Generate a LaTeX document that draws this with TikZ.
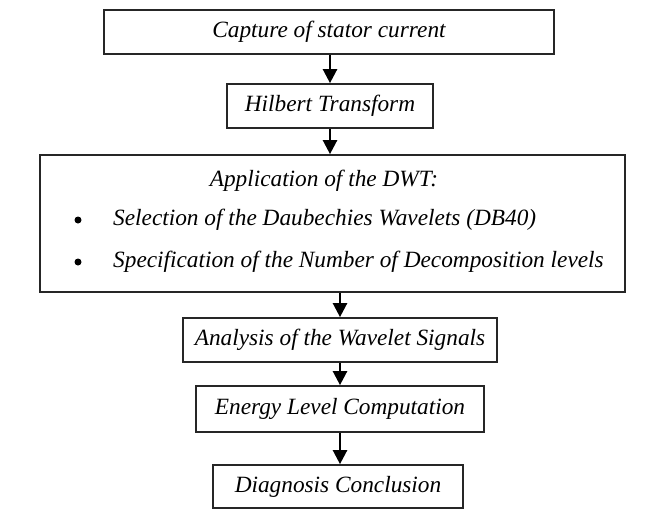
\documentclass[tikz,border=0pt]{standalone}
\usepackage{fontspec}
\setmainfont{Liberation Serif}
\usetikzlibrary{arrows.meta}
\begin{document}
\begin{tikzpicture}[x=1pt,y=-1pt,
  stepbox/.style={draw=black!85, line width=1.7pt, inner sep=0pt, font=\fontsize{23.3}{27}\selectfont\itshape},
  txt/.style={inner sep=0pt, font=\fontsize{23.3}{27}\selectfont\itshape},
  arr/.style={line width=2.4pt, -{Triangle[width=14pt,length=14pt]}}]
\useasboundingbox (0,0) rectangle (645,509);
\node[stepbox, minimum width=450pt, minimum height=44pt] (b1) at (329,32) {Capture of stator current};
\node[stepbox, minimum width=206pt, minimum height=44pt] (b2) at (330,106) {Hilbert Transform};
\node[stepbox, minimum width=585pt, minimum height=137pt] (b3) at (332.5,223.5) {};
\node[txt] (t3) at (324,181) {Application of the DWT:};
\node[txt, anchor=west] (s1) at (113,220) {Selection of the Daubechies Wavelets (DB40)};
\node[txt, anchor=west] (s2) at (113,262) {Specification of the Number of Decomposition levels};
\node[circle, fill=black, inner sep=0pt, minimum size=7pt] (d1) at (78,220) {};
\node[circle, fill=black, inner sep=0pt, minimum size=7pt] (d2) at (78,262) {};
\node[stepbox, minimum width=314pt, minimum height=44pt] (b4) at (340,340) {Analysis of the Wavelet Signals};
\node[stepbox, minimum width=288pt, minimum height=46pt] (b5) at (340,409) {Energy Level Computation};
\node[stepbox, minimum width=250pt, minimum height=43pt] (b6) at (338,486.5) {Diagnosis Conclusion};
\draw[arr] (b1.south -| b2) -- (b2.north);
\draw[arr] (b2.south) -- (b3.north -| b2);
\draw[arr] (b3.south -| b4) -- (b4.north);
\draw[arr] (b4.south) -- (b5.north);
\draw[arr] (b5.south) -- (b5.south |- b6.north);
\end{tikzpicture}
\end{document}
